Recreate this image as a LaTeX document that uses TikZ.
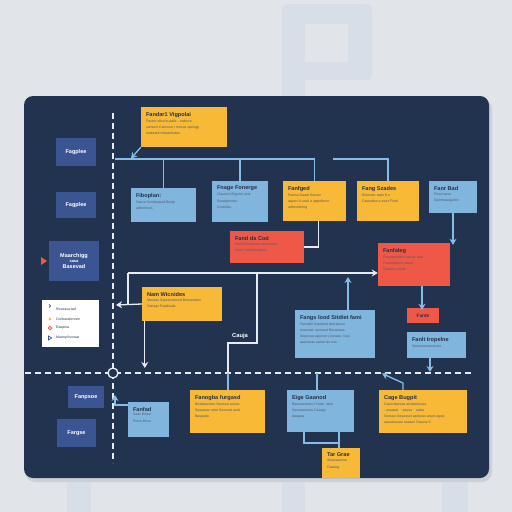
\documentclass[tikz,border=0pt]{standalone}
\usepackage{fontspec}
\setmainfont{Liberation Sans}
\usetikzlibrary{fit,arrows.meta,calc}
\definecolor{bg}{HTML}{E1E4E9}
\definecolor{bar}{HTML}{D7DEE7}
\definecolor{shadow}{HTML}{CBD0D8}
\definecolor{navy}{HTML}{22334F}
\definecolor{yel}{HTML}{F8B936}
\definecolor{lblue}{HTML}{80B5DE}
\definecolor{redb}{HTML}{EF5847}
\definecolor{mblue}{HTML}{3B5593}
\definecolor{wline}{HTML}{E8ECF2}
\definecolor{bline}{HTML}{86BDE6}
\definecolor{txt}{HTML}{26324A}
\newcommand\cbox[6]{%
  \node[box, fill=#4, fit={#2 #3}] (#1) {};
  \node[ttl] (#1t) at ([shift={(5,5)}]#1.north west) {#5};
  \node[bdy] (#1b) at ([shift={(0,2)}]#1t.south west) {#6};}
\newcommand\lbox[4]{%
  \node[box, fill=mblue, fit={#2 #3}] (#1) {};
  \node[ltxt] (#1t) at (#1.center) {#4};}
\begin{document}
\begin{tikzpicture}[x=1pt,y=-1pt,
  box/.style={inner sep=0pt, draw=none},
  ttl/.style={anchor=north west, inner sep=0pt, text=txt, font=\fontsize{5.6}{6}\selectfont\bfseries},
  bdy/.style={anchor=north west, inner sep=0pt, align=left, text=txt!80!white, font=\fontsize{3.5}{6.2}\selectfont},
  ltxt/.style={inner sep=0pt, align=center, text=white, font=\fontsize{5.5}{6.5}\selectfont\bfseries},
  wconn/.style={draw=wline, line width=1.3, -{Stealth[length=6,width=7]}},
  wln/.style={draw=wline, line width=1.3},
  bconn/.style={draw=bline, line width=1.3, -{Stealth[length=6,width=7]}},
  bln/.style={draw=bline, line width=1.3},
  dashln/.style={draw=wline, line width=1.3, dash pattern=on 6 off 4}]
\useasboundingbox (0,0) rectangle (512,512);
\fill[bg] (0,0) rectangle (512,512);
% faint background shapes
\fill[bar, rounded corners=6] (282,4) rectangle (372,80);
\fill[bar] (282,60) rectangle (305,96);
\fill[bg] (305,24) rectangle (348,62);
\fill[bar] (67,470) rectangle (91,512);
\fill[bar] (282,470) rectangle (305,512);
\fill[bar] (442,470) rectangle (468,512);
% panel
\fill[shadow, rounded corners=10] (25,99) rectangle (492,482);
\fill[navy, rounded corners=9] (24,96) rectangle (489,478);
% dashed guides
\coordinate (vtop) at (113,113);
\coordinate (vbot) at (113,463);
\coordinate (hl) at (25,373);
\coordinate (hr) at (473,373);
\draw[dashln] (vtop) -- (vbot);
\draw[dashln] (hl) -- (hr);
\node[circle, draw=wline, line width=1.3, fill=navy, minimum size=10pt, inner sep=0] (cross) at (113,373) {};

% left column
\lbox{l1}{(56,138)}{(96,166)}{Fagplee}
\lbox{l2}{(56,192)}{(96,218)}{Fagplee}
\lbox{l3}{(49,241)}{(99,281)}{Maarchigg\\[-1pt]{\fontsize{4}{5}\selectfont sasa}\\[-1pt]Basevad}
\lbox{l4}{(68,386)}{(104,408)}{Fanpsoe}
\lbox{l5}{(57,419)}{(96,447)}{Fargse}
\fill[redb] (41,257) -- (47,261) -- (41,265) -- cycle;
% legend
\node[box, fill=white, fit={(42,300) (99,347)}] (leg) {};
\draw[mblue, line width=0.7] (49,307.5) arc (90:-90:1.6);
\fill[yel] (50,319) circle (1.5);
\draw[redb, line width=0.8] (50,328) circle (1.8);
\draw[mblue, line width=0.7] (48.5,336) -- (51.8,338) -- (48.5,340) -- cycle;
\node[bdy, anchor=west, text=txt] (lg1) at (56,309) {Reveasa tad};
\node[bdy, anchor=west, text=txt] (lg2) at (56,319) {Conbaralorvom};
\node[bdy, anchor=west, text=txt] (lg3) at (56,328) {Eaopnia};
\node[bdy, anchor=west, text=txt] (lg4) at (56,338) {Maeny/Inoosat};

% boxes
\cbox{y1}{(141,107)}{(227,147)}{yel}{Fandar1 Vigpolai}{Fasser dilso/cuaalls - mebore\\sanserit Cannous I mesus spengg\\mabeark mbeanledan}
\cbox{b1}{(131,188)}{(196,222)}{lblue}{Fiboplan:}{Fance Sonthausail-Bealp\\adtechsvis}
\cbox{b2}{(212,181)}{(268,222)}{lblue}{Fnage Fonerge}{Clasoeni Ergveni and\\Soeatptensis\\Costoliss}
\cbox{y2}{(283,181)}{(346,221)}{yel}{Fanfged}{Famsu Gaaet Stasen\\aspen A vash a appoliensr\\adhinefering}
\cbox{y3}{(357,181)}{(419,221)}{yel}{Fang Szades}{Entesser otals ft n\\Cassaden a asoe Fentl}
\cbox{b3}{(429,181)}{(477,213)}{lblue}{Fanr Bad}{Fonsl ausn\\Sommaauguton}
\cbox{r1}{(230,231)}{(304,263)}{redb}{Fand da Cod}{Famd Tavspmar sarsenees\\Inave Cahfestsllsase}
\cbox{r2}{(378,243)}{(450,286)}{redb}{Fanfaleg}{Fasansuefdnu stenar atas\\Fsoaratsisvo naves\\Faasens elsdt}
\cbox{y4}{(142,287)}{(222,321)}{yel}{Nam Wicnides}{Macsae Sapranesmoit Berearatien\\Canage Rasdisala}
\cbox{b4}{(295,310)}{(375,358)}{lblue}{Fangs lood Sitdiet fami}{Faosalle Sasdanit dearasvoe\\reaasnst: anesoet Bacaaeas\\Sopocsa sapoeet | esoeas: Isss\\aasnsnas aanse do eos}
\node[box, fill=redb, fit={(407,308) (439,323)}] (r3) {};
\node[ttl, anchor=center, font=\fontsize{4.8}{5}\selectfont\bfseries] (r3t) at (r3.center) {Fante};
\cbox{b5}{(407,332)}{(466,358)}{lblue}{Fanlt Iropelne}{Sooemasnaesrnoe}
\cbox{b6}{(128,402)}{(169,437)}{lblue}{Fanfad}{Saac Beaut\\Forso Besa}
\cbox{y5}{(190,390)}{(265,433)}{yel}{Fanogba furgasd}{Beatdaaoses Ssoeaut ausse\\Sasesase anet Sooesat asds\\Baspada}
\cbox{b7}{(287,390)}{(354,432)}{lblue}{Eige Gaanod}{Bausasnamis'I Vaaer Iatsk\\Sasoaasoaos Casags\\Isaspaa}
\cbox{y6}{(322,448)}{(360,478)}{yel}{Tar Grae}{Sinasaasnse\\Caaaeg}
\cbox{y7}{(379,390)}{(467,433)}{yel}{Cage Bugpit}{Casecdaesaa ansfasdosaa\\- asaasat $\cdot$ aassa $\cdot$ aaba\\Seessa IAssasset aadeass asset agsst\\aaeasnssae asaaon Faasse 3}

% top bus
\coordinate (busl) at (115,159);
\draw[bln] (busl) -- (y2.north |- busl) -- (y2.north);
\draw[bln] (b1.north |- busl) -- (b1.north);
\draw[bln] (b2.north |- busl) -- (b2.north);
\coordinate (bus2) at (333,159);
\draw[bln] (bus2) -- (y3.north |- bus2) -- (y3.north);
\draw[bconn] (y1.south west) -- (131,158.5);
\draw[bconn] (b3.south) -- ([yshift=-2]r2.north -| b3.south);
% fanfged to red
\draw[wln] ([xshift=-28]y2.south east) |- (r1.east);
% white arrows
\coordinate (wa) at (128,273);
\draw[wconn] (y4.west) -- (116,305);
\draw[wln] (128,305) -- (wa);
\draw[wconn] (wa) -- (r2.west |- wa);
\draw[wconn] ([xshift=3]y4.south west) -- ([xshift=3]y4.south west |- 0,368);
\coordinate (wb) at (257,343);
\draw[wln] (257,273) -- (wb) -- (228,343) -- (228,373);
\node[ltxt, font=\fontsize{5.8}{6}\selectfont\bfseries] (cauja) at (240,336) {Cauja};
\draw[bln] (228,373) -- (y5.north -| 228,0);
% blue arrows
\draw[bconn] (b4.north -| 348,0) -- (348,277);
\draw[bconn] (r2.south -| 422,0) -- ([yshift=-2]r3.north -| 422,0);
\draw[bconn] (b5.south -| 430,0) -- (430,372);
\draw[bconn] (b6.west |- 0,405) -- (115,405) -- (115,395);
\draw[bln] (317,373) -- (b7.north -| 317,0);
\draw[bconn] (y7.north -| 403,0) -- (403,383) -- (382,373.5);
\draw[bln] (b7.south -| 304,0) -- (304,443) -- (339,443);
\draw[bln] (b7.south -| 339,0) -- (y6.north -| 339,0);
\end{tikzpicture}
\end{document}
